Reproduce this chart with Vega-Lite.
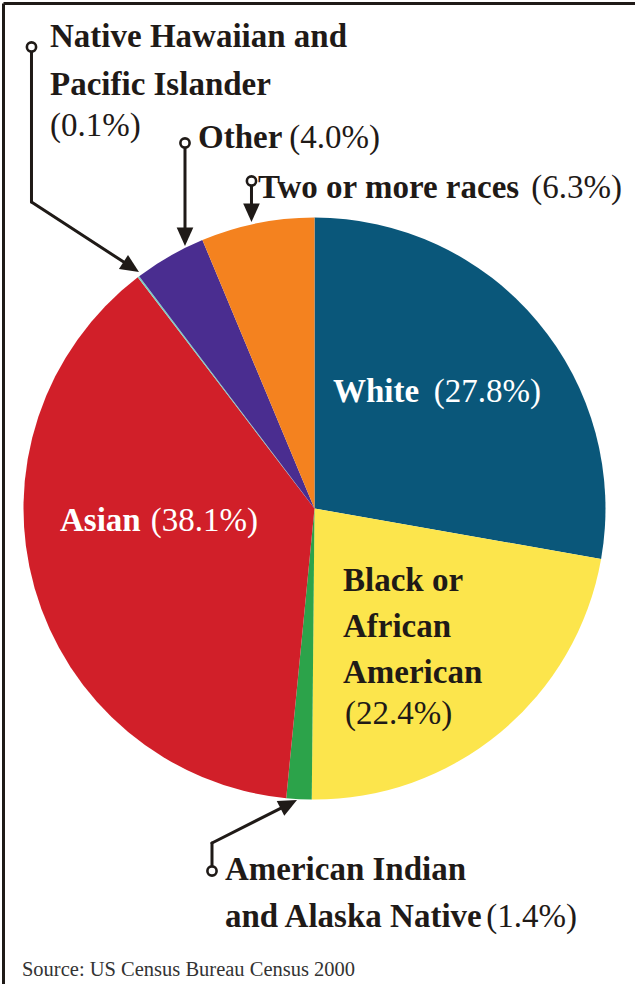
{
  "$schema": "https://vega.github.io/schema/vega-lite/v6.json",
  "width": 632,
  "height": 981,
  "padding": {"left": 3, "top": 3, "right": 0, "bottom": 0},
  "autosize": {"type": "none"},
  "background": "white",
  "config": {"view": {"stroke": null}},
  "data": {"values": [
    {"race": "White", "pct": 27.8, "label": "(27.8%)", "rank": 1},
    {"race": "Black or African American", "pct": 22.4, "label": "(22.4%)", "rank": 2},
    {"race": "American Indian and Alaska Native", "pct": 1.4, "label": "(1.4%)", "rank": 3},
    {"race": "Asian", "pct": 38.1, "label": "(38.1%)", "rank": 4},
    {"race": "Native Hawaiian and Pacific Islander", "pct": 0.1, "label": "(0.1%)", "rank": 5},
    {"race": "Other", "pct": 4.0, "label": "(4.0%)", "rank": 6},
    {"race": "Two or more races", "pct": 6.3, "label": "(6.3%)", "rank": 7}
  ]},
  "layer": [
    {
      "mark": {"type": "arc", "outerRadius": 291, "x": {"expr": "scale('x', 0)"}, "y": {"expr": "scale('y', 0)"}},
      "encoding": {
        "theta": {"field": "pct", "type": "quantitative", "stack": true},
        "order": {"field": "rank", "type": "quantitative"},
        "color": {"field": "race", "type": "nominal", "legend": null,
          "scale": {
            "domain": ["White", "Black or African American", "American Indian and Alaska Native", "Asian", "Native Hawaiian and Pacific Islander", "Other", "Two or more races"],
            "range": ["#0a577a", "#fce54c", "#2ca34a", "#d11f29", "#7ccfc2", "#4a2d90", "#f4821f"]
          }}
      }
    },
    {
      "transform": [{"filter": "datum.race === 'Native Hawaiian and Pacific Islander'"}],
      "mark": {"type": "rule", "strokeWidth": 3, "color": "#1f1a17", "strokeCap": "round"},
      "encoding": {
        "x": {"datum": -97.25, "type": "quantitative", "scale": {"domain": [-107.04, 110.14], "nice": false, "zero": false}, "axis": {"orient": "top", "labels": false, "ticks": false, "grid": false, "title": null, "domainColor": "#1f1a17", "domainWidth": 3}},
        "y": {"datum": 158.59, "type": "quantitative", "scale": {"domain": [-163.4, 173.71], "nice": false, "zero": false}, "axis": {"orient": "left", "labels": false, "ticks": false, "grid": false, "title": null, "domainColor": "#1f1a17", "domainWidth": 3}},
        "x2": {"datum": -97.25},
        "y2": {"datum": 105.33}
      }
    },
    {
      "transform": [{"filter": "datum.race === 'Native Hawaiian and Pacific Islander'"}],
      "mark": {"type": "rule", "strokeWidth": 3, "color": "#1f1a17", "strokeCap": "round"},
      "encoding": {
        "x": {"datum": -97.25, "type": "quantitative", "scale": {"domain": [-107.04, 110.14], "nice": false, "zero": false}, "axis": {"orient": "top", "labels": false, "ticks": false, "grid": false, "title": null, "domainColor": "#1f1a17", "domainWidth": 3}},
        "y": {"datum": 105.33, "type": "quantitative", "scale": {"domain": [-163.4, 173.71], "nice": false, "zero": false}, "axis": {"orient": "left", "labels": false, "ticks": false, "grid": false, "title": null, "domainColor": "#1f1a17", "domainWidth": 3}},
        "x2": {"datum": -62.89},
        "y2": {"datum": 82.96}
      }
    },
    {
      "transform": [{"filter": "datum.race === 'Other'"}],
      "mark": {"type": "rule", "strokeWidth": 3, "color": "#1f1a17", "strokeCap": "round"},
      "encoding": {
        "x": {"datum": -44.5, "type": "quantitative", "scale": {"domain": [-107.04, 110.14], "nice": false, "zero": false}, "axis": {"orient": "top", "labels": false, "ticks": false, "grid": false, "title": null, "domainColor": "#1f1a17", "domainWidth": 3}},
        "y": {"datum": 125.6, "type": "quantitative", "scale": {"domain": [-163.4, 173.71], "nice": false, "zero": false}, "axis": {"orient": "left", "labels": false, "ticks": false, "grid": false, "title": null, "domainColor": "#1f1a17", "domainWidth": 3}},
        "x2": {"datum": -44.5},
        "y2": {"datum": 93.64}
      }
    },
    {
      "transform": [{"filter": "datum.race === 'Two or more races'"}],
      "mark": {"type": "rule", "strokeWidth": 3, "color": "#1f1a17", "strokeCap": "round"},
      "encoding": {
        "x": {"datum": -21.65, "type": "quantitative", "scale": {"domain": [-107.04, 110.14], "nice": false, "zero": false}, "axis": {"orient": "top", "labels": false, "ticks": false, "grid": false, "title": null, "domainColor": "#1f1a17", "domainWidth": 3}},
        "y": {"datum": 112.54, "type": "quantitative", "scale": {"domain": [-163.4, 173.71], "nice": false, "zero": false}, "axis": {"orient": "left", "labels": false, "ticks": false, "grid": false, "title": null, "domainColor": "#1f1a17", "domainWidth": 3}},
        "x2": {"datum": -21.65},
        "y2": {"datum": 101.89}
      }
    },
    {
      "transform": [{"filter": "datum.race === 'American Indian and Alaska Native'"}],
      "mark": {"type": "rule", "strokeWidth": 3, "color": "#1f1a17", "strokeCap": "round"},
      "encoding": {
        "x": {"datum": -35.22, "type": "quantitative", "scale": {"domain": [-107.04, 110.14], "nice": false, "zero": false}, "axis": {"orient": "top", "labels": false, "ticks": false, "grid": false, "title": null, "domainColor": "#1f1a17", "domainWidth": 3}},
        "y": {"datum": -124.57, "type": "quantitative", "scale": {"domain": [-163.4, 173.71], "nice": false, "zero": false}, "axis": {"orient": "left", "labels": false, "ticks": false, "grid": false, "title": null, "domainColor": "#1f1a17", "domainWidth": 3}},
        "x2": {"datum": -35.22},
        "y2": {"datum": -114.95}
      }
    },
    {
      "transform": [{"filter": "datum.race === 'American Indian and Alaska Native'"}],
      "mark": {"type": "rule", "strokeWidth": 3, "color": "#1f1a17", "strokeCap": "round"},
      "encoding": {
        "x": {"datum": -35.22, "type": "quantitative", "scale": {"domain": [-107.04, 110.14], "nice": false, "zero": false}, "axis": {"orient": "top", "labels": false, "ticks": false, "grid": false, "title": null, "domainColor": "#1f1a17", "domainWidth": 3}},
        "y": {"datum": -114.95, "type": "quantitative", "scale": {"domain": [-163.4, 173.71], "nice": false, "zero": false}, "axis": {"orient": "left", "labels": false, "ticks": false, "grid": false, "title": null, "domainColor": "#1f1a17", "domainWidth": 3}},
        "x2": {"datum": -8.76},
        "y2": {"datum": -101.58}
      }
    },
    {
      "transform": [{"filter": "datum.race === 'Native Hawaiian and Pacific Islander'"}],
      "mark": {"type": "point", "shape": "circle", "size": 85, "filled": true, "fill": "white", "stroke": "#1f1a17", "strokeWidth": 2.6, "opacity": 1},
      "encoding": {
        "x": {"datum": -97.25, "type": "quantitative", "scale": {"domain": [-107.04, 110.14], "nice": false, "zero": false}, "axis": {"orient": "top", "labels": false, "ticks": false, "grid": false, "title": null, "domainColor": "#1f1a17", "domainWidth": 3}},
        "y": {"datum": 158.59, "type": "quantitative", "scale": {"domain": [-163.4, 173.71], "nice": false, "zero": false}, "axis": {"orient": "left", "labels": false, "ticks": false, "grid": false, "title": null, "domainColor": "#1f1a17", "domainWidth": 3}}
      }
    },
    {
      "transform": [{"filter": "datum.race === 'Other'"}],
      "mark": {"type": "point", "shape": "circle", "size": 85, "filled": true, "fill": "white", "stroke": "#1f1a17", "strokeWidth": 2.6, "opacity": 1},
      "encoding": {
        "x": {"datum": -44.5, "type": "quantitative", "scale": {"domain": [-107.04, 110.14], "nice": false, "zero": false}, "axis": {"orient": "top", "labels": false, "ticks": false, "grid": false, "title": null, "domainColor": "#1f1a17", "domainWidth": 3}},
        "y": {"datum": 125.6, "type": "quantitative", "scale": {"domain": [-163.4, 173.71], "nice": false, "zero": false}, "axis": {"orient": "left", "labels": false, "ticks": false, "grid": false, "title": null, "domainColor": "#1f1a17", "domainWidth": 3}}
      }
    },
    {
      "transform": [{"filter": "datum.race === 'Two or more races'"}],
      "mark": {"type": "point", "shape": "circle", "size": 85, "filled": true, "fill": "white", "stroke": "#1f1a17", "strokeWidth": 2.6, "opacity": 1},
      "encoding": {
        "x": {"datum": -21.65, "type": "quantitative", "scale": {"domain": [-107.04, 110.14], "nice": false, "zero": false}, "axis": {"orient": "top", "labels": false, "ticks": false, "grid": false, "title": null, "domainColor": "#1f1a17", "domainWidth": 3}},
        "y": {"datum": 112.54, "type": "quantitative", "scale": {"domain": [-163.4, 173.71], "nice": false, "zero": false}, "axis": {"orient": "left", "labels": false, "ticks": false, "grid": false, "title": null, "domainColor": "#1f1a17", "domainWidth": 3}}
      }
    },
    {
      "transform": [{"filter": "datum.race === 'American Indian and Alaska Native'"}],
      "mark": {"type": "point", "shape": "circle", "size": 85, "filled": true, "fill": "white", "stroke": "#1f1a17", "strokeWidth": 2.6, "opacity": 1},
      "encoding": {
        "x": {"datum": -35.22, "type": "quantitative", "scale": {"domain": [-107.04, 110.14], "nice": false, "zero": false}, "axis": {"orient": "top", "labels": false, "ticks": false, "grid": false, "title": null, "domainColor": "#1f1a17", "domainWidth": 3}},
        "y": {"datum": -124.57, "type": "quantitative", "scale": {"domain": [-163.4, 173.71], "nice": false, "zero": false}, "axis": {"orient": "left", "labels": false, "ticks": false, "grid": false, "title": null, "domainColor": "#1f1a17", "domainWidth": 3}}
      }
    },
    {
      "transform": [{"filter": "datum.race === 'Native Hawaiian and Pacific Islander'"}],
      "mark": {"type": "point", "shape": "M0,0L-0.45,-1L0.45,-1Z", "size": 1369, "filled": true, "color": "#1f1a17", "strokeWidth": 0, "opacity": 1, "angle": 303},
      "encoding": {
        "x": {"datum": -60.31, "type": "quantitative", "scale": {"domain": [-107.04, 110.14], "nice": false, "zero": false}, "axis": {"orient": "top", "labels": false, "ticks": false, "grid": false, "title": null, "domainColor": "#1f1a17", "domainWidth": 3}},
        "y": {"datum": 81.27, "type": "quantitative", "scale": {"domain": [-163.4, 173.71], "nice": false, "zero": false}, "axis": {"orient": "left", "labels": false, "ticks": false, "grid": false, "title": null, "domainColor": "#1f1a17", "domainWidth": 3}}
      }
    },
    {
      "transform": [{"filter": "datum.race === 'Other'"}],
      "mark": {"type": "point", "shape": "M0,0L-0.45,-1L0.45,-1Z", "size": 1369, "filled": true, "color": "#1f1a17", "strokeWidth": 0, "opacity": 1, "angle": 0},
      "encoding": {
        "x": {"datum": -44.5, "type": "quantitative", "scale": {"domain": [-107.04, 110.14], "nice": false, "zero": false}, "axis": {"orient": "top", "labels": false, "ticks": false, "grid": false, "title": null, "domainColor": "#1f1a17", "domainWidth": 3}},
        "y": {"datum": 90.21, "type": "quantitative", "scale": {"domain": [-163.4, 173.71], "nice": false, "zero": false}, "axis": {"orient": "left", "labels": false, "ticks": false, "grid": false, "title": null, "domainColor": "#1f1a17", "domainWidth": 3}}
      }
    },
    {
      "transform": [{"filter": "datum.race === 'Two or more races'"}],
      "mark": {"type": "point", "shape": "M0,0L-0.45,-1L0.45,-1Z", "size": 1369, "filled": true, "color": "#1f1a17", "strokeWidth": 0, "opacity": 1, "angle": 0},
      "encoding": {
        "x": {"datum": -21.65, "type": "quantitative", "scale": {"domain": [-107.04, 110.14], "nice": false, "zero": false}, "axis": {"orient": "top", "labels": false, "ticks": false, "grid": false, "title": null, "domainColor": "#1f1a17", "domainWidth": 3}},
        "y": {"datum": 98.45, "type": "quantitative", "scale": {"domain": [-163.4, 173.71], "nice": false, "zero": false}, "axis": {"orient": "left", "labels": false, "ticks": false, "grid": false, "title": null, "domainColor": "#1f1a17", "domainWidth": 3}}
      }
    },
    {
      "transform": [{"filter": "datum.race === 'American Indian and Alaska Native'"}],
      "mark": {"type": "point", "shape": "M0,0L-0.45,-1L0.45,-1Z", "size": 1369, "filled": true, "color": "#1f1a17", "strokeWidth": 0, "opacity": 1, "angle": 243},
      "encoding": {
        "x": {"datum": -6.01, "type": "quantitative", "scale": {"domain": [-107.04, 110.14], "nice": false, "zero": false}, "axis": {"orient": "top", "labels": false, "ticks": false, "grid": false, "title": null, "domainColor": "#1f1a17", "domainWidth": 3}},
        "y": {"datum": -100.17, "type": "quantitative", "scale": {"domain": [-163.4, 173.71], "nice": false, "zero": false}, "axis": {"orient": "left", "labels": false, "ticks": false, "grid": false, "title": null, "domainColor": "#1f1a17", "domainWidth": 3}}
      }
    },
    {
      "transform": [{"filter": "datum.race === 'Native Hawaiian and Pacific Islander'"}],
      "mark": {"type": "text", "align": "left", "baseline": "alphabetic", "font": "Liberation Serif", "fontSize": 33, "fontWeight": "bold", "color": "#1f1a17", "lineHeight": 48},
      "encoding": {
        "x": {"datum": -90.89, "type": "quantitative", "scale": {"domain": [-107.04, 110.14], "nice": false, "zero": false}, "axis": {"orient": "top", "labels": false, "ticks": false, "grid": false, "title": null, "domainColor": "#1f1a17", "domainWidth": 3}},
        "y": {"datum": 158.42, "type": "quantitative", "scale": {"domain": [-163.4, 173.71], "nice": false, "zero": false}, "axis": {"orient": "left", "labels": false, "ticks": false, "grid": false, "title": null, "domainColor": "#1f1a17", "domainWidth": 3}},
        "text": {"value": ["Native Hawaiian and", "Pacific Islander"]}
      }
    },
    {
      "transform": [{"filter": "datum.race === 'Native Hawaiian and Pacific Islander'"}],
      "mark": {"type": "text", "align": "left", "baseline": "alphabetic", "font": "Liberation Serif", "fontSize": 33, "fontWeight": "normal", "color": "#1f1a17"},
      "encoding": {
        "x": {"datum": -90.89, "type": "quantitative", "scale": {"domain": [-107.04, 110.14], "nice": false, "zero": false}, "axis": {"orient": "top", "labels": false, "ticks": false, "grid": false, "title": null, "domainColor": "#1f1a17", "domainWidth": 3}},
        "y": {"datum": 128.01, "type": "quantitative", "scale": {"domain": [-163.4, 173.71], "nice": false, "zero": false}, "axis": {"orient": "left", "labels": false, "ticks": false, "grid": false, "title": null, "domainColor": "#1f1a17", "domainWidth": 3}},
        "text": {"field": "label", "type": "nominal"}
      }
    },
    {
      "transform": [{"filter": "datum.race === 'Other'"}],
      "mark": {"type": "text", "align": "left", "baseline": "alphabetic", "font": "Liberation Serif", "fontSize": 33, "fontWeight": "bold", "color": "#1f1a17"},
      "encoding": {
        "x": {"datum": -40.03, "type": "quantitative", "scale": {"domain": [-107.04, 110.14], "nice": false, "zero": false}, "axis": {"orient": "top", "labels": false, "ticks": false, "grid": false, "title": null, "domainColor": "#1f1a17", "domainWidth": 3}},
        "y": {"datum": 123.88, "type": "quantitative", "scale": {"domain": [-163.4, 173.71], "nice": false, "zero": false}, "axis": {"orient": "left", "labels": false, "ticks": false, "grid": false, "title": null, "domainColor": "#1f1a17", "domainWidth": 3}},
        "text": {"field": "race", "type": "nominal"}
      }
    },
    {
      "transform": [{"filter": "datum.race === 'Other'"}],
      "mark": {"type": "text", "align": "right", "baseline": "alphabetic", "font": "Liberation Serif", "fontSize": 33, "fontWeight": "normal", "color": "#1f1a17"},
      "encoding": {
        "x": {"datum": 22.51, "type": "quantitative", "scale": {"domain": [-107.04, 110.14], "nice": false, "zero": false}, "axis": {"orient": "top", "labels": false, "ticks": false, "grid": false, "title": null, "domainColor": "#1f1a17", "domainWidth": 3}},
        "y": {"datum": 123.88, "type": "quantitative", "scale": {"domain": [-163.4, 173.71], "nice": false, "zero": false}, "axis": {"orient": "left", "labels": false, "ticks": false, "grid": false, "title": null, "domainColor": "#1f1a17", "domainWidth": 3}},
        "text": {"field": "label", "type": "nominal"}
      }
    },
    {
      "transform": [{"filter": "datum.race === 'Two or more races'"}],
      "mark": {"type": "text", "align": "left", "baseline": "alphabetic", "font": "Liberation Serif", "fontSize": 33, "fontWeight": "bold", "color": "#1f1a17"},
      "encoding": {
        "x": {"datum": -19.42, "type": "quantitative", "scale": {"domain": [-107.04, 110.14], "nice": false, "zero": false}, "axis": {"orient": "top", "labels": false, "ticks": false, "grid": false, "title": null, "domainColor": "#1f1a17", "domainWidth": 3}},
        "y": {"datum": 106.7, "type": "quantitative", "scale": {"domain": [-163.4, 173.71], "nice": false, "zero": false}, "axis": {"orient": "left", "labels": false, "ticks": false, "grid": false, "title": null, "domainColor": "#1f1a17", "domainWidth": 3}},
        "text": {"field": "race", "type": "nominal"}
      }
    },
    {
      "transform": [{"filter": "datum.race === 'Two or more races'"}],
      "mark": {"type": "text", "align": "right", "baseline": "alphabetic", "font": "Liberation Serif", "fontSize": 33, "fontWeight": "normal", "color": "#1f1a17"},
      "encoding": {
        "x": {"datum": 105.67, "type": "quantitative", "scale": {"domain": [-107.04, 110.14], "nice": false, "zero": false}, "axis": {"orient": "top", "labels": false, "ticks": false, "grid": false, "title": null, "domainColor": "#1f1a17", "domainWidth": 3}},
        "y": {"datum": 106.7, "type": "quantitative", "scale": {"domain": [-163.4, 173.71], "nice": false, "zero": false}, "axis": {"orient": "left", "labels": false, "ticks": false, "grid": false, "title": null, "domainColor": "#1f1a17", "domainWidth": 3}},
        "text": {"field": "label", "type": "nominal"}
      }
    },
    {
      "transform": [{"filter": "datum.race === 'White'"}],
      "mark": {"type": "text", "align": "left", "baseline": "alphabetic", "font": "Liberation Serif", "fontSize": 33, "fontWeight": "bold", "color": "#ffffff"},
      "encoding": {
        "x": {"datum": 6.36, "type": "quantitative", "scale": {"domain": [-107.04, 110.14], "nice": false, "zero": false}, "axis": {"orient": "top", "labels": false, "ticks": false, "grid": false, "title": null, "domainColor": "#1f1a17", "domainWidth": 3}},
        "y": {"datum": 36.6, "type": "quantitative", "scale": {"domain": [-163.4, 173.71], "nice": false, "zero": false}, "axis": {"orient": "left", "labels": false, "ticks": false, "grid": false, "title": null, "domainColor": "#1f1a17", "domainWidth": 3}},
        "text": {"field": "race", "type": "nominal"}
      }
    },
    {
      "transform": [{"filter": "datum.race === 'White'"}],
      "mark": {"type": "text", "align": "right", "baseline": "alphabetic", "font": "Liberation Serif", "fontSize": 33, "fontWeight": "normal", "color": "#ffffff"},
      "encoding": {
        "x": {"datum": 77.84, "type": "quantitative", "scale": {"domain": [-107.04, 110.14], "nice": false, "zero": false}, "axis": {"orient": "top", "labels": false, "ticks": false, "grid": false, "title": null, "domainColor": "#1f1a17", "domainWidth": 3}},
        "y": {"datum": 36.6, "type": "quantitative", "scale": {"domain": [-163.4, 173.71], "nice": false, "zero": false}, "axis": {"orient": "left", "labels": false, "ticks": false, "grid": false, "title": null, "domainColor": "#1f1a17", "domainWidth": 3}},
        "text": {"field": "label", "type": "nominal"}
      }
    },
    {
      "transform": [{"filter": "datum.race === 'Asian'"}],
      "mark": {"type": "text", "align": "left", "baseline": "alphabetic", "font": "Liberation Serif", "fontSize": 33, "fontWeight": "bold", "color": "#ffffff"},
      "encoding": {
        "x": {"datum": -87.46, "type": "quantitative", "scale": {"domain": [-107.04, 110.14], "nice": false, "zero": false}, "axis": {"orient": "top", "labels": false, "ticks": false, "grid": false, "title": null, "domainColor": "#1f1a17", "domainWidth": 3}},
        "y": {"datum": -7.73, "type": "quantitative", "scale": {"domain": [-163.4, 173.71], "nice": false, "zero": false}, "axis": {"orient": "left", "labels": false, "ticks": false, "grid": false, "title": null, "domainColor": "#1f1a17", "domainWidth": 3}},
        "text": {"field": "race", "type": "nominal"}
      }
    },
    {
      "transform": [{"filter": "datum.race === 'Asian'"}],
      "mark": {"type": "text", "align": "right", "baseline": "alphabetic", "font": "Liberation Serif", "fontSize": 33, "fontWeight": "normal", "color": "#ffffff"},
      "encoding": {
        "x": {"datum": -19.42, "type": "quantitative", "scale": {"domain": [-107.04, 110.14], "nice": false, "zero": false}, "axis": {"orient": "top", "labels": false, "ticks": false, "grid": false, "title": null, "domainColor": "#1f1a17", "domainWidth": 3}},
        "y": {"datum": -7.73, "type": "quantitative", "scale": {"domain": [-163.4, 173.71], "nice": false, "zero": false}, "axis": {"orient": "left", "labels": false, "ticks": false, "grid": false, "title": null, "domainColor": "#1f1a17", "domainWidth": 3}},
        "text": {"field": "label", "type": "nominal"}
      }
    },
    {
      "transform": [{"filter": "datum.race === 'Black or African American'"}],
      "mark": {"type": "text", "align": "left", "baseline": "alphabetic", "font": "Liberation Serif", "fontSize": 33, "fontWeight": "bold", "color": "#1f1a17", "lineHeight": 46},
      "encoding": {
        "x": {"datum": 9.79, "type": "quantitative", "scale": {"domain": [-107.04, 110.14], "nice": false, "zero": false}, "axis": {"orient": "top", "labels": false, "ticks": false, "grid": false, "title": null, "domainColor": "#1f1a17", "domainWidth": 3}},
        "y": {"datum": -28.35, "type": "quantitative", "scale": {"domain": [-163.4, 173.71], "nice": false, "zero": false}, "axis": {"orient": "left", "labels": false, "ticks": false, "grid": false, "title": null, "domainColor": "#1f1a17", "domainWidth": 3}},
        "text": {"value": ["Black or", "African", "American"]}
      }
    },
    {
      "transform": [{"filter": "datum.race === 'Black or African American'"}],
      "mark": {"type": "text", "align": "left", "baseline": "alphabetic", "font": "Liberation Serif", "fontSize": 33, "fontWeight": "normal", "color": "#1f1a17"},
      "encoding": {
        "x": {"datum": 10.48, "type": "quantitative", "scale": {"domain": [-107.04, 110.14], "nice": false, "zero": false}, "axis": {"orient": "top", "labels": false, "ticks": false, "grid": false, "title": null, "domainColor": "#1f1a17", "domainWidth": 3}},
        "y": {"datum": -74.05, "type": "quantitative", "scale": {"domain": [-163.4, 173.71], "nice": false, "zero": false}, "axis": {"orient": "left", "labels": false, "ticks": false, "grid": false, "title": null, "domainColor": "#1f1a17", "domainWidth": 3}},
        "text": {"field": "label", "type": "nominal"}
      }
    },
    {
      "transform": [{"filter": "datum.race === 'American Indian and Alaska Native'"}],
      "mark": {"type": "text", "align": "left", "baseline": "alphabetic", "font": "Liberation Serif", "fontSize": 33, "fontWeight": "bold", "color": "#1f1a17", "lineHeight": 47},
      "encoding": {
        "x": {"datum": -30.76, "type": "quantitative", "scale": {"domain": [-107.04, 110.14], "nice": false, "zero": false}, "axis": {"orient": "top", "labels": false, "ticks": false, "grid": false, "title": null, "domainColor": "#1f1a17", "domainWidth": 3}},
        "y": {"datum": -127.66, "type": "quantitative", "scale": {"domain": [-163.4, 173.71], "nice": false, "zero": false}, "axis": {"orient": "left", "labels": false, "ticks": false, "grid": false, "title": null, "domainColor": "#1f1a17", "domainWidth": 3}},
        "text": {"value": ["American Indian", "and Alaska Native"]}
      }
    },
    {
      "transform": [{"filter": "datum.race === 'American Indian and Alaska Native'"}],
      "mark": {"type": "text", "align": "right", "baseline": "alphabetic", "font": "Liberation Serif", "fontSize": 33, "fontWeight": "normal", "color": "#1f1a17"},
      "encoding": {
        "x": {"datum": 90.21, "type": "quantitative", "scale": {"domain": [-107.04, 110.14], "nice": false, "zero": false}, "axis": {"orient": "top", "labels": false, "ticks": false, "grid": false, "title": null, "domainColor": "#1f1a17", "domainWidth": 3}},
        "y": {"datum": -143.81, "type": "quantitative", "scale": {"domain": [-163.4, 173.71], "nice": false, "zero": false}, "axis": {"orient": "left", "labels": false, "ticks": false, "grid": false, "title": null, "domainColor": "#1f1a17", "domainWidth": 3}},
        "text": {"field": "label", "type": "nominal"}
      }
    },
    {
      "data": {"values": [{"source": "Source: US Census Bureau Census 2000"}]},
      "mark": {"type": "text", "align": "left", "baseline": "alphabetic", "font": "Liberation Serif", "fontSize": 20.5, "fontWeight": "normal", "color": "#333333"},
      "encoding": {
        "x": {"datum": -100.52, "type": "quantitative", "scale": {"domain": [-107.04, 110.14], "nice": false, "zero": false}, "axis": {"orient": "top", "labels": false, "ticks": false, "grid": false, "title": null, "domainColor": "#1f1a17", "domainWidth": 3}},
        "y": {"datum": -160.8, "type": "quantitative", "scale": {"domain": [-163.4, 173.71], "nice": false, "zero": false}, "axis": {"orient": "left", "labels": false, "ticks": false, "grid": false, "title": null, "domainColor": "#1f1a17", "domainWidth": 3}},
        "text": {"field": "source", "type": "nominal"}
      }
    }
  ]
}
